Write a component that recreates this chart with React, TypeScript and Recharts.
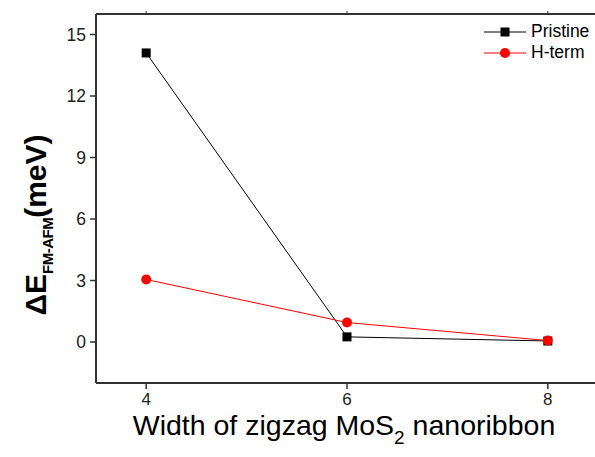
import React from 'react';
import { LineChart, Line, XAxis, YAxis } from 'recharts';

// ribbon widths and energy differences (meV)
const widths = [4, 6, 8];
const pristine = [14.1, 0.25, 0.05];
const hTerm = [3.05, 0.95, 0.07];
const xTicks = [4, 6, 8];
const yTicks = [0, 3, 6, 9, 12, 15];

const data = widths.map((w, i) => ({ w, pristine: pristine[i], hTerm: hTerm[i] }));

const axisColor = '#333';
const font = 'Arial, "Liberation Sans", sans-serif';

const SquareDot = (props: any) => {
    const { cx, cy, index } = props;
    if (cx == null || cy == null) return <g key={`sq-${index}`} />;
    return <rect key={`sq-${index}`} x={cx - 4.5} y={cy - 4.5} width={9} height={9} fill="#000" />;
};

const YLabel = () => (
    <text
        x={46}
        y={225}
        transform="rotate(-90 46 225)"
        textAnchor="middle"
        fontFamily={font}
        fontWeight="bold"
        fontSize={30}
        fill="#000"
    >
        ΔE
        <tspan fontSize={15} dy={7} letterSpacing={-0.5}>FM-AFM</tspan>
        <tspan dy={-7}>(meV)</tspan>
    </text>
);

const XLabel = () => (
    <text x={344} y={435} textAnchor="middle" fontFamily={font} fontSize={28.5} fill="#000">
        Width of zigzag MoS
        <tspan fontSize={19} dy={9}>2</tspan>
        <tspan dy={-9}> nanoribbon</tspan>
    </text>
);

const legendItems = [
    { name: 'Pristine', color: '#000', square: true },
    { name: 'H-term', color: '#ff0000', square: false },
];

const LegendBox = () => (
    <div style={{ position: 'absolute', top: 21, left: 484, fontFamily: font, fontSize: 17.5, color: '#000' }}>
        {legendItems.map((d) => (
            <div key={d.name} style={{ display: 'flex', alignItems: 'center', height: 21 }}>
                <svg width={42} height={12} style={{ marginRight: 5 }}>
                    <line x1={0} y1={6} x2={42} y2={6} stroke={d.color} strokeWidth={1} />
                    {d.square ? (
                        <rect x={16.5} y={1.5} width={9} height={9} fill={d.color} />
                    ) : (
                        <circle cx={21} cy={6} r={5} fill={d.color} />
                    )}
                </svg>
                <span>{d.name}</span>
            </div>
        ))}
    </div>
);

export default function App() {
    return (
        <div style={{ position: 'absolute', left: 0, top: 0, width: 595, height: 457, overflow: 'hidden', background: '#fff' }}>
            <LineChart width={620} height={457} data={data} margin={{ top: 13, right: 22, bottom: 0, left: 0 }}>
                <XAxis
                    dataKey="w"
                    type="number"
                    domain={[3.5, 8.5]}
                    ticks={xTicks}
                    height={74}
                    axisLine={{ stroke: axisColor, strokeWidth: 2 }}
                    tickLine={{ stroke: axisColor, strokeWidth: 1.5 }}
                    tickSize={6}
                    tick={{ fill: '#222', fontSize: 17, fontFamily: font }}
                    tickMargin={4}
                    label={<XLabel />}
                />
                <XAxis
                    xAxisId="top"
                    dataKey="w"
                    type="number"
                    orientation="top"
                    domain={[3.5, 8.5]}
                    ticks={xTicks}
                    height={1}
                    axisLine={{ stroke: axisColor, strokeWidth: 2 }}
                    tickLine={{ stroke: axisColor, strokeWidth: 1 }}
                    tickSize={3}
                    tickFormatter={() => ''}
                />
                <YAxis
                    type="number"
                    domain={[-2, 16]}
                    ticks={yTicks}
                    width={96}
                    axisLine={{ stroke: axisColor, strokeWidth: 2 }}
                    tickLine={{ stroke: axisColor, strokeWidth: 1.5 }}
                    tickSize={6}
                    tick={{ fill: '#222', fontSize: 17.5, fontFamily: font }}
                    tickMargin={4}
                    label={<YLabel />}
                />
                <Line
                    dataKey="pristine"
                    stroke="#000"
                    strokeWidth={1}
                    dot={SquareDot}
                    activeDot={false}
                    isAnimationActive={false}
                />
                <Line
                    dataKey="hTerm"
                    stroke="#ff0000"
                    strokeWidth={1}
                    dot={{ r: 5, fill: '#ff0000', stroke: '#ff0000', strokeWidth: 0 }}
                    activeDot={false}
                    isAnimationActive={false}
                />
            </LineChart>
            <LegendBox />
        </div>
    );
}
